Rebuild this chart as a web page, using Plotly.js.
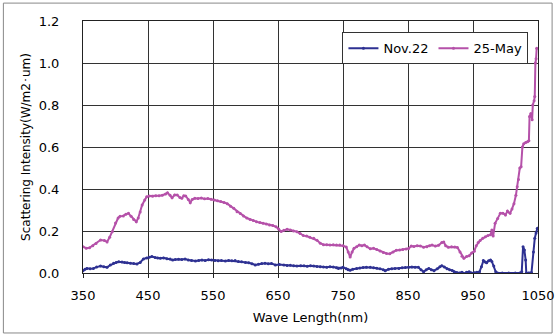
<!DOCTYPE html>
<html>
<head>
<meta charset="utf-8">
<script src="https://cdn.plot.ly/plotly-3.0.1.min.js"></script>
<style>html,body{margin:0;padding:0;background:#fff;}#chart{width:555px;height:336px;}</style>
</head>
<body>
<div id="chart"></div>
<script>
// Wavelength (nm) and scattering intensity for 25-May
const mayWave = [350,355,360,365,370,377,383,387,391,395,400,404,407,412,416,420,424,428,432,435,438,441,445,448,452,457,462,467,472,477,480,484,487,491,495,499,502,505,508,512,515,518,522,527,532,537,542,547,552,557,562,567,572,577,582,587,592,597,602,607,612,617,622,627,632,637,642,647,651,655,659,664,669,674,679,684,689,694,699,705,710,715,720,725,730,735,740,745,750,755,758,761,764,767,771,775,779,783,787,792,797,802,807,812,817,822,827,832,837,842,847,851,855,859,864,869,874,879,883,887,892,897,902,905,908,912,917,922,926,930,933,936,940,944,948,952,955,958,961,965,969,973,977,979,981,984,988,992,996,1000,1003,1007,1010,1013,1016,1018,1020,1022,1024,1026,1028,1031,1034,1036,1037,1039,1041,1042,1044,1045,1046,1047,1048];
const mayVal = [0.125,0.118,0.12,0.13,0.14,0.157,0.155,0.148,0.17,0.197,0.238,0.262,0.27,0.272,0.28,0.284,0.27,0.255,0.244,0.262,0.29,0.324,0.348,0.363,0.367,0.366,0.368,0.368,0.37,0.376,0.382,0.37,0.358,0.372,0.371,0.36,0.356,0.368,0.367,0.35,0.335,0.35,0.356,0.355,0.357,0.353,0.355,0.351,0.348,0.344,0.341,0.336,0.33,0.318,0.308,0.292,0.283,0.272,0.262,0.255,0.25,0.244,0.24,0.237,0.233,0.229,0.226,0.22,0.21,0.198,0.203,0.208,0.205,0.2,0.197,0.188,0.178,0.176,0.17,0.165,0.156,0.142,0.135,0.134,0.133,0.134,0.133,0.133,0.13,0.124,0.1,0.076,0.1,0.118,0.125,0.133,0.13,0.133,0.125,0.115,0.118,0.112,0.105,0.098,0.093,0.092,0.1,0.108,0.11,0.112,0.114,0.117,0.128,0.126,0.13,0.129,0.123,0.125,0.13,0.133,0.128,0.132,0.145,0.148,0.13,0.123,0.125,0.124,0.122,0.1,0.08,0.07,0.078,0.082,0.095,0.104,0.13,0.145,0.155,0.165,0.173,0.178,0.182,0.205,0.176,0.237,0.26,0.284,0.285,0.276,0.295,0.284,0.305,0.33,0.37,0.411,0.445,0.5,0.506,0.6,0.615,0.622,0.625,0.63,0.745,0.76,0.73,0.8,0.82,0.84,1.0,1.02,1.07];

// Wavelength (nm) and scattering intensity for Nov.22
const novWave = [350,353,356,361,366,371,377,382,387,392,397,401,405,410,414,418,423,428,433,438,443,448,452,456,461,465,469,474,479,484,488,492,497,502,507,512,517,523,528,533,538,543,548,553,558,563,569,574,579,584,589,594,600,605,610,615,620,625,630,635,640,646,652,659,664,669,674,679,685,690,695,700,705,710,715,720,725,730,735,740,743,747,750,755,758,761,765,771,776,781,786,792,797,802,807,812,815,820,825,830,836,841,846,851,856,861,866,870,874,878,882,886,890,895,899,902,906,910,914,918,921,925,929,933,937,940,944,948,952,956,960,963,966,969,971,974,977,979,982,985,988,995,1005,1015,1022,1025,1027,1029,1031,1032,1036,1040,1043,1045,1047,1049];
const novVal = [0.011,0.018,0.022,0.02,0.022,0.028,0.033,0.03,0.027,0.038,0.046,0.05,0.054,0.052,0.05,0.049,0.047,0.045,0.043,0.05,0.067,0.072,0.075,0.078,0.074,0.072,0.07,0.072,0.068,0.067,0.062,0.064,0.066,0.064,0.067,0.062,0.06,0.057,0.06,0.062,0.06,0.063,0.062,0.06,0.058,0.059,0.057,0.06,0.058,0.059,0.055,0.053,0.05,0.049,0.044,0.038,0.042,0.045,0.046,0.044,0.045,0.038,0.04,0.038,0.036,0.037,0.034,0.033,0.035,0.034,0.032,0.035,0.033,0.031,0.03,0.029,0.027,0.03,0.028,0.025,0.022,0.024,0.027,0.02,0.015,0.013,0.018,0.022,0.024,0.026,0.027,0.027,0.025,0.023,0.02,0.016,0.011,0.018,0.02,0.022,0.022,0.025,0.026,0.027,0.028,0.027,0.027,0.015,0.006,0.015,0.022,0.016,0.011,0.02,0.03,0.035,0.028,0.02,0.016,0.012,0.006,0.002,0,0.004,-0.003,0.004,0.006,0,0.001,0.003,0.006,0.03,0.059,0.052,0.049,0.058,0.062,0.055,0.033,0.006,0,0,0,0,0,0.006,0.125,0.11,0.062,0,0,0.002,0.1,0.165,0.19,0.213];

const seriesNames = ['Nov.22', '25-May'];
const xTicks = [350,450,550,650,750,850,950,1050];
const yTicks = [0,0.2,0.4,0.6,0.8,1.0,1.2];

const FONT = 'DejaVu Sans, sans-serif';

const traces = [
  {x: novWave, y: novVal, name: seriesNames[0], type: 'scatter', mode: 'lines+markers',
   line: {color: '#2E3192', width: 2}, marker: {color: '#2E3192', size: 3}},
  {x: mayWave, y: mayVal, name: seriesNames[1], type: 'scatter', mode: 'lines+markers',
   line: {color: '#B551A9', width: 2}, marker: {color: '#B551A9', size: 3}}
];

const layout = {
  width: 555, height: 336,
  margin: {l: 83, r: 17, t: 21, b: 63},
  paper_bgcolor: '#fff', plot_bgcolor: '#fff',
  font: {family: FONT, size: 12, color: '#000'},
  showlegend: true,
  legend: {orientation: 'h', x: 0.979, xanchor: 'right', y: 0.955, yanchor: 'top',
           bgcolor: '#fff', bordercolor: '#333', borderwidth: 1,
           font: {family: FONT, size: 13, color: '#000'}, itemwidth: 30, tracegroupgap: 0},
  xaxis: {range: [350, 1050], tickvals: xTicks, ticktext: xTicks.map(String),
          showgrid: true, gridcolor: '#333', gridwidth: 1,
          showline: true, linecolor: '#222', linewidth: 1, mirror: true,
          ticks: 'outside', ticklen: 4, tickcolor: '#222', ticklabelstandoff: 6,
          zeroline: false, tickfont: {family: FONT, size: 13, color: '#000'},
          title: {text: 'Wave Length(nm)', font: {family: FONT, size: 13, color: '#000'}, standoff: 11}},
  yaxis: {range: [0, 1.2], tickvals: yTicks, ticktext: yTicks.map(v => v.toFixed(1)),
          showgrid: true, gridcolor: '#333', gridwidth: 1,
          showline: true, linecolor: '#222', linewidth: 1, mirror: true,
          ticks: '', zeroline: false, ticklabelstandoff: 20,
          tickfont: {family: FONT, size: 13, color: '#000'},
          title: {text: 'Scattering Intensity(W/m2･um)', font: {family: FONT, size: 12, color: '#000'}, standoff: 5}},
  shapes: [
    {type: 'rect', xref: 'paper', yref: 'paper', x0: -0.175, x1: 1.031, y0: -0.238, y1: 1.071,
     line: {color: '#888', width: 1}, fillcolor: 'rgba(0,0,0,0)', layer: 'below'}
  ]
};

Plotly.newPlot('chart', traces, layout, {displayModeBar: false, staticPlot: true});
</script>
</body>
</html>
